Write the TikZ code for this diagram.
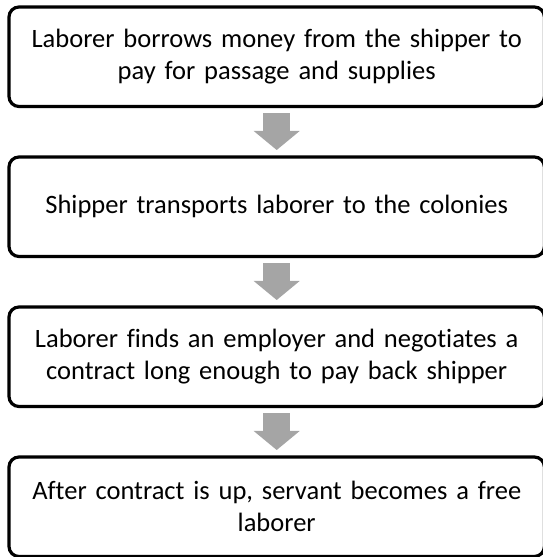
\documentclass[tikz,border=0pt]{standalone}
\usepackage{fontspec}
\setmainfont[Ligatures=NoCommon]{Carlito}
\usetikzlibrary{positioning,arrows.meta}
\definecolor{arrowgray}{HTML}{A5A5A5}

\begin{document}
\begin{tikzpicture}[x=1pt, y=1pt, node distance=50.5pt, auto,
    block_step/.style ={rectangle, draw=black, line width=3.2pt, fill=white,
      rounded corners=10pt, text width=520pt, align=center,
      minimum width=535.4pt, minimum height=99.5pt, inner sep=0pt,
      outer sep=0pt, font=\fontsize{26.5}{32}\selectfont},
    line_block/.style ={draw=arrowgray, line width=27pt,
      -{Triangle[width=46pt, length=19pt, line width=0pt]},
      shorten <=7pt, shorten >=7pt}]

    \useasboundingbox (0,0) rectangle (543,557);

    % Place nodes
    \node [block_step] at (276.7,500.25) (borrow)
      {Laborer borrows money from the shipper to\\pay for passage and supplies};
    \node [block_step, below=of borrow] (transport)
      {Shipper transports laborer to the colonies};
    \node [block_step, below=of transport] (employer)
      {Laborer finds an employer and negotiates a\\contract long enough to pay back shipper};
    \node [block_step, below=of employer] (free)
      {After contract is up, servant becomes a free\\laborer};

    % Drawing paths, top to bottom
    \begin{scope}[every path/.style=line_block]
    \path (borrow) -- (transport);
    \path (transport) -- (employer);
    \path (employer) -- (free);
    \end{scope}

\end{tikzpicture}
\end{document}
